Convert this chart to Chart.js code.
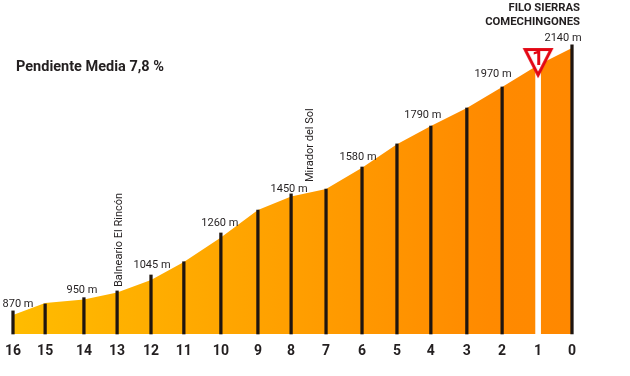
<!DOCTYPE html>
<html lang="en">
<head>
  <meta charset="UTF-8">
  <title>Pendiente Media</title>
  <script src="https://cdn.jsdelivr.net/npm/chart.js"></script>
  <style>
    html, body { margin: 0; padding: 0; background: #fff; }
    canvas { display: block; }
  </style>
</head>
<body>
  <canvas id="profile" width="630" height="376"></canvas>

  <script>
    // km to the summit (marks are not evenly spaced)
    const kmPositions = [16, 15.08, 13.97, 13.02, 12.05, 11.11, 10.05, 8.99, 8.04, 7.04, 6.01, 5.01, 4.04, 3.01, 2, 0.97, 0];
    const kmLabels = ['16', '15', '14', '13', '12', '11', '10', '9', '8', '7', '6', '5', '4', '3', '2', '1', '0'];
    // road height at every km
    const elevations = [870, 928, 944, 977, 1037, 1123, 1239, 1370, 1434, 1470, 1572, 1683, 1770, 1856, 1956, 2061, 2142];
    // top of the black km posts (null = km 1, which is the white one)
    const postTops = [890, 923, 953, 985, 1061, 1124, 1261, 1370, 1447, 1470, 1575, 1685, 1770, 1856, 1956, null, 2156];
    const summitPost = [2037];
    const summitMarker = [2070];
    const heightLabels = ['870 m', null, '950 m', null, '1045 m', null, '1260 m', null, '1450 m', null, '1580 m', null, '1790 m', null, '1970 m', null, '2140 m'];

    const ctx = document.getElementById('profile').getContext('2d');
    const textColor = '#231f20';
    const fontName = 'Roboto, "Noto Sans", sans-serif';
    const baseHeight = 780;

    // Red "give way" triangle used as the point style of the summit marker
    function makeMarker() {
      const c = document.createElement('canvas');
      c.width = 32;
      c.height = 32;
      const g = c.getContext('2d');
      g.beginPath();
      g.moveTo(3, 2.5);
      g.lineTo(29, 2.5);
      g.lineTo(16, 28);
      g.closePath();
      g.fillStyle = '#fff';
      g.fill();
      g.lineWidth = 3;
      g.lineJoin = 'miter';
      g.strokeStyle = '#e30613';
      g.stroke();
      return c;
    }

    // Horizontal yellow to orange fill
    function areaFill(context) {
      const area = context.chart.chartArea;
      if (!area) return '#ff9c00';
      const grad = context.chart.ctx.createLinearGradient(area.left, 0, area.right, 0);
      grad.addColorStop(0, '#ffbc00');
      grad.addColorStop(0.55, '#ff9c00');
      grad.addColorStop(0.85, '#ff8a00');
      grad.addColorStop(1, '#ff8800');
      return grad;
    }

    // All the text sitting on the chart
    const annotations = {
      id: 'annotations',
      afterDatasetsDraw(chart) {
        const x = chart.scales.x;
        const y = chart.scales.y;
        const c = chart.ctx;
        c.save();
        c.fillStyle = textColor;
        c.textBaseline = 'middle';

        // height labels, nudged left of their posts
        const shiftX = [5, 0, -2, 0, 1, 0, -1, 0, -2, 0, -4, 0, -8, 0, -9, 0, -9];
        const shiftY = [-7, 0, -7, 0, -10, 0, -10, 0, -5, 0, -10, 0, -11, 0, -13, 0, -6.5];
        c.font = '11px ' + fontName;
        c.textAlign = 'center';
        heightLabels.forEach((label, i) => {
          if (!label) return;
          c.fillText(label, x.getPixelForValue(kmPositions[i]) + shiftX[i], y.getPixelForValue(postTops[i]) + shiftY[i]);
        });

        // rotated place names
        c.textAlign = 'left';
        [['Balneario El Rincón', 119, 287], ['Mirador del Sol', 310, 182]].forEach(([text, px, py]) => {
          c.save();
          c.translate(px, py);
          c.rotate(-Math.PI / 2);
          c.fillText(text, 0, 0);
          c.restore();
        });

        c.font = 'bold 14.5px ' + fontName;
        c.fillText('Pendiente Media 7,8 %', 16, 67.5);

        c.font = 'bold 11.3px ' + fontName;
        c.textAlign = 'right';
        c.fillText('FILO SIERRAS', 580, 8.5);
        c.fillText('COMECHINGONES', 580, 22.5);

        c.fillStyle = '#e30613';
        c.font = 'bold 21px ' + fontName;
        c.textAlign = 'center';
        c.fillText('1', x.getPixelForValue(kmPositions[15]), 60);
        c.restore();
      }
    };

    new Chart(ctx, {
      data: {
        datasets: [
          {
            type: 'line',
            data: kmPositions.map((km, i) => ({ x: km, y: elevations[i] })),
            fill: 'start',
            backgroundColor: areaFill,
            borderWidth: 0,
            pointRadius: 0,
            tension: 0,
            order: 4
          },
          {
            type: 'bar',
            data: kmPositions.map((km, i) => ({ x: km, y: postTops[i] })),
            backgroundColor: '#1e1510',
            barThickness: 2.6,
            base: baseHeight,
            grouped: false,
            clip: false,
            order: 3
          },
          {
            type: 'bar',
            data: summitPost.map(v => ({ x: kmPositions[15], y: v })),
            backgroundColor: '#fff',
            barThickness: 5,
            base: baseHeight,
            grouped: false,
            clip: false,
            order: 2
          },
          {
            type: 'line',
            data: summitMarker.map(v => ({ x: kmPositions[15], y: v })),
            showLine: false,
            pointStyle: makeMarker(),
            clip: false,
            order: 1
          }
        ]
      },
      options: {
        responsive: false,
        animation: false,
        events: [],
        layout: { autoPadding: false, padding: { left: 13, right: 58, top: 0, bottom: 0 } },
        plugins: { legend: { display: false }, tooltip: { enabled: false } },
        scales: {
          x: {
            type: 'linear',
            reverse: true,
            offset: false,
            min: 0,
            max: 16,
            grid: { display: false },
            border: { display: false },
            afterBuildTicks: axis => { axis.ticks = kmPositions.map(v => ({ value: v })); },
            afterFit: axis => { axis.height = 42; },
            ticks: {
              autoSkip: false,
              maxRotation: 0,
              padding: 1,
              color: textColor,
              font: { family: fontName, size: 14, weight: 'bold' },
              callback: (value, index) => kmLabels[index]
            }
          },
          y: {
            display: false,
            min: baseHeight,
            max: 2370
          }
        }
      },
      plugins: [annotations]
    });
  </script>
</body>
</html>
